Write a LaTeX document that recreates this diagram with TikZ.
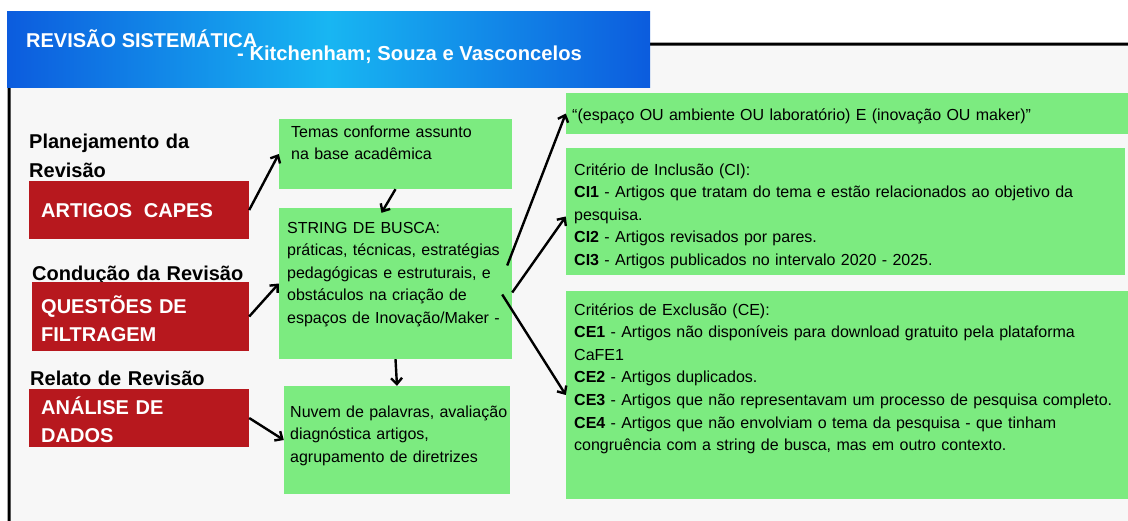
\documentclass[tikz,border=0pt]{standalone}
\usepackage{fontspec}
\setmainfont{Liberation Sans}
\usetikzlibrary{positioning}
\usetikzlibrary{arrows.meta}

\definecolor{panelgray}{RGB}{247,247,247}
\definecolor{boxred}{RGB}{183,24,30}
\definecolor{boxgreen}{RGB}{124,235,128}
\definecolor{bannerdark}{RGB}{12,92,222}
\definecolor{bannerlight}{RGB}{24,182,242}

\tikzset{
  redbox/.style={fill=boxred, inner sep=0pt},
  greenbox/.style={fill=boxgreen, inner sep=0pt},
  phase/.style={anchor=base west, inner sep=0pt, align=left, text width=260pt,
    font=\fontsize{20}{29}\selectfont\bfseries},
  redtext/.style={anchor=base west, inner sep=0pt, text=white, align=left, text width=200pt,
    font=\fontsize{20}{28.5}\selectfont\bfseries},
  greentext/.style={anchor=base west, inner sep=0pt, align=left, text width=#1,
    font=\fontsize{16}{22.6}\selectfont},
  greentext/.default=540pt,
  flow/.style={-{Straight Barb[length=6pt,width=11pt,line width=2.4pt]}, line width=2.4pt},
}

\begin{document}
\begin{tikzpicture}[x=1pt,y=-1pt]
  \useasboundingbox (0,0) rectangle (1128,520);
  \clip (0,0) rectangle (1128,520);
  \fill[white] (0,0) rectangle (1128,520);

  % panel and banner
  \draw[line width=3pt, fill=panelgray, rounded corners=6pt]
    (9,44) -- (1140,44) -- (1140,540) -- (9,540) -- cycle;
  \shade[left color=bannerdark, right color=bannerdark, middle color=bannerlight]
    (7,11) rectangle (650,87);
  \node[anchor=base west, inner sep=0pt, text=white, font=\fontsize{20}{24}\selectfont\bfseries]
    (title) at (26,47) {REVISÃO SISTEMÁTICA};
  \node[anchor=base west, inner sep=0pt, text=white, font=\fontsize{20.2}{24}\selectfont\bfseries]
    (authors) at (237,60) {- Kitchenham; Souza e Vasconcelos};

  % phases
  \node[phase] (planejamento) at (29,148) {Planejamento da\\Revisão};
  \node[phase] (conducao) at (32,280) {Condução da Revisão};
  \node[phase] (relato) at (30,385) {Relato de Revisão};

  % red boxes
  \node[redbox, minimum width=220pt, minimum height=58pt] (artigos) at (139,210) {};
  \node[redbox, minimum width=217pt, minimum height=69pt] (questoes) at (140.5,316.5) {};
  \node[redbox, minimum width=220pt, minimum height=58pt] (analise) at (139,418) {};
  \node[redtext] (artigos-t) at (41,217) {ARTIGOS\hspace{5pt} CAPES};
  \node[redtext] (questoes-t) at (41,313) {QUESTÕES DE\\FILTRAGEM};
  \node[redtext] (analise-t) at (41,414) {ANÁLISE DE\\DADOS};

  % green boxes, middle column
  \node[greenbox, minimum width=233pt, minimum height=70pt] (temas) at (395.5,154) {};
  \node[greenbox, minimum width=233pt, minimum height=151pt] (busca) at (395.5,283.5) {};
  \node[greenbox, minimum width=226pt, minimum height=108pt] (nuvem) at (397,440) {};
  \node[greentext=220pt] (temas-t) at (291,137) {Temas conforme assunto\\na base acadêmica};
  \node[greentext=225pt] (busca-t) at (287,233)
    {STRING DE BUSCA:\\práticas, técnicas, estratégias\\pedagógicas e estruturais, e\\obstáculos na criação de\\espaços de Inovação/Maker -};
  \node[greentext=225pt] (nuvem-t) at (290,417)
    {Nuvem de palavras, avaliação\\diagnóstica artigos,\\agrupamento de diretrizes};

  % green boxes, right column
  \node[greenbox, minimum width=562pt, minimum height=41pt] (espaco) at (847,113.5) {};
  \node[greenbox, minimum width=559pt, minimum height=127pt] (inclusao) at (845.5,211.5) {};
  \node[greenbox, minimum width=562pt, minimum height=208pt] (exclusao) at (847,395) {};
  \node[greentext] (espaco-t) at (572,120)
    {“(espaço OU ambiente OU laboratório) E (inovação OU maker)”};
  \node[greentext] (inclusao-t) at (574,175)
    {Critério de Inclusão (CI):\\
     \textbf{CI1} - Artigos que tratam do tema e estão relacionados ao objetivo da\\
     pesquisa.\\
     \textbf{CI2} - Artigos revisados por pares.\\
     \textbf{CI3} - Artigos publicados no intervalo 2020 - 2025.};
  \node[greentext] (exclusao-t) at (574,315)
    {Critérios de Exclusão (CE):\\
     \textbf{CE1} - Artigos não disponíveis para download gratuito pela plataforma\\
     CaFE1\\
     \textbf{CE2} - Artigos duplicados.\\
     \textbf{CE3} - Artigos que não representavam um processo de pesquisa completo.\\
     \textbf{CE4} - Artigos que não envolviam o tema da pesquisa - que tinham\\
     congruência com a string de busca, mas em outro contexto.};

  % connectors
  \draw[flow] (artigos.east) -- (temas.west);
  \draw[flow] (temas.south) -- ([xshift=-14pt,yshift=-5pt]busca.north);
  \draw[flow] (questoes.east) -- (busca.west);
  \draw[flow] (busca.south) -- (nuvem.north);
  \draw[flow] (analise.east) -- (nuvem.west);
  \draw[flow] ([xshift=-5pt,yshift=18pt]busca.east) -- (espaco.west);
  \draw[flow] ([yshift=-9pt]busca.east) -- ([yshift=-5pt]inclusao.west);
  \draw[flow] ([xshift=-10pt,yshift=-11pt]busca.east) -- (exclusao.west);
\end{tikzpicture}
\end{document}
